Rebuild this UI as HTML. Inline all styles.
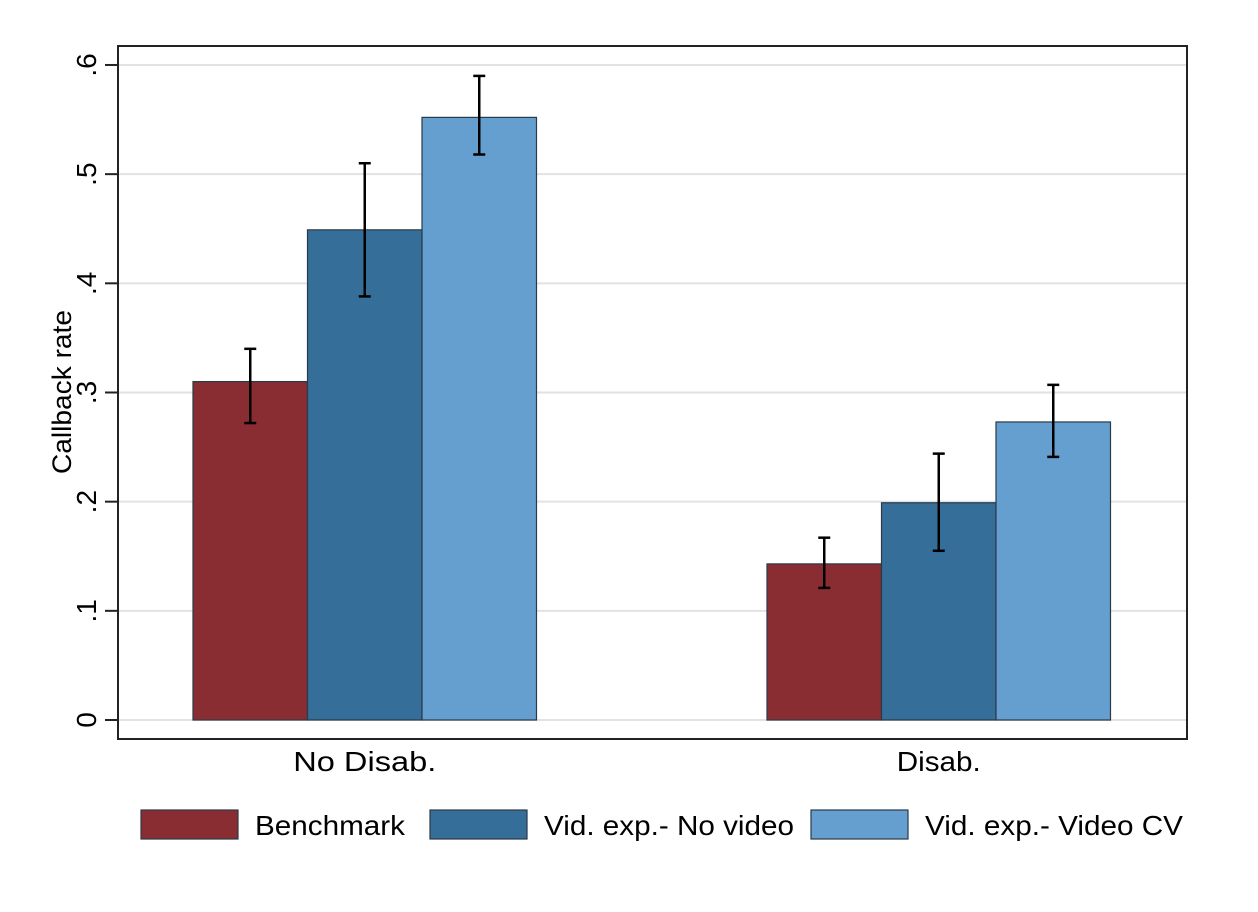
<!DOCTYPE html>
<html><head><meta charset="utf-8"><style>
body{margin:0;background:#fff;}
svg{display:block;font-family:"Liberation Sans",sans-serif;}
</style></head><body>
<svg id="chart" width="1258" height="912" viewBox="0 0 1258 912">
<rect x="0" y="0" width="1258" height="912" fill="#fff"/>
<g id="grid"></g>
<g id="bars"></g>
<g id="errs"></g>
<rect x="118" y="46" width="1069" height="693" fill="none" stroke="#222" stroke-width="2"/>
<g id="yaxis"></g>
<g id="xaxis"></g>
<text x="0" y="0" transform="translate(71,392) rotate(-90)" text-anchor="middle" font-size="27" textLength="164" lengthAdjust="spacingAndGlyphs" fill="#000">Callback rate</text>
<g id="legend"></g>
</svg>
<script>
const categories = ["No Disab.", "Disab."];
const seriesNames = ["Benchmark", "Vid. exp.- No video", "Vid. exp.- Video CV"];
const benchmark = [0.310, 0.143];
const noVideo = [0.449, 0.199];
const videoCV = [0.552, 0.273];
const benchmarkLo = [0.272, 0.121];
const benchmarkHi = [0.340, 0.167];
const noVideoLo = [0.388, 0.155];
const noVideoHi = [0.510, 0.244];
const videoCVLo = [0.518, 0.241];
const videoCVHi = [0.590, 0.307];
const yTicks = [0, 0.1, 0.2, 0.3, 0.4, 0.5, 0.6];
const yTickLabels = ["0", ".1", ".2", ".3", ".4", ".5", ".6"];

const NS = "http://www.w3.org/2000/svg";
const colors = ["#892d33", "#356e99", "#649fcf"];
const y = v => 720 - v * 1091.7;
const groupStart = [193, 767];
const barW = 114.5;
const x = (g, s) => groupStart[g] + s * barW;
function mk(tag, attrs, parent) {
  const e = document.createElementNS(NS, tag);
  for (const k in attrs) e.setAttribute(k, attrs[k]);
  parent.appendChild(e);
  return e;
}
const grid = document.getElementById('grid');
const yaxis = document.getElementById('yaxis');
yTicks.forEach((t, i) => {
  const gl = mk('line', {x1: 119, x2: 1186, y1: y(t), y2: y(t), stroke: '#e2e2e2', 'stroke-width': 2}, grid);
  
  
  const tk = mk('line', {x1: 105, x2: 118, y1: y(t), y2: y(t), stroke: '#222', 'stroke-width': 2}, yaxis);
  
  
  const lb = mk('text', {transform: `translate(96,${y(t)}) rotate(-90)`, 'text-anchor': 'middle', 'font-size': 28, fill: '#000'}, yaxis);
  lb.textContent = yTickLabels[i];
  
  
});
const series = [benchmark, noVideo, videoCV];
const los = [benchmarkLo, noVideoLo, videoCVLo];
const his = [benchmarkHi, noVideoHi, videoCVHi];
const bars = document.getElementById('bars');
const errs = document.getElementById('errs');
const catLen = [143, 84];
categories.forEach((c, g) => {
  series.forEach((sv, s) => {
    const bx = x(g, s);
    const r = mk('rect', {x: bx, y: y(sv[g]), width: barW, height: y(0) - y(sv[g]), fill: colors[s], stroke: '#2a3a48', 'stroke-width': 1.2}, bars);
    
    
    const cx = bx + barW / 2;
    const eg = mk('g', {stroke: '#000', 'stroke-width': 2.5}, errs);
    
    
    mk('line', {x1: cx, x2: cx, y1: y(his[s][g]), y2: y(los[s][g])}, eg);
    mk('line', {x1: cx - 6, x2: cx + 6, y1: y(his[s][g]), y2: y(his[s][g])}, eg);
    mk('line', {x1: cx - 6, x2: cx + 6, y1: y(los[s][g]), y2: y(los[s][g])}, eg);
  });
  const t = mk('text', {x: x(g, 1.5), y: 771, 'text-anchor': 'middle', 'font-size': 28, textLength: catLen[g], lengthAdjust: 'spacingAndGlyphs', fill: '#000'}, document.getElementById('xaxis'));
  t.textContent = c;
  
  
});
const legend = document.getElementById('legend');
const legX = [141, 430, 811];
const legLen = [150, 250, 258];
seriesNames.forEach((n, i) => {
  const r = mk('rect', {x: legX[i], y: 810, width: 97, height: 29, fill: colors[i], stroke: '#2a3a48', 'stroke-width': 1.2}, legend);
  
  
  const t = mk('text', {x: legX[i] + 114, y: 835, 'font-size': 28, textLength: legLen[i], lengthAdjust: 'spacingAndGlyphs', fill: '#000'}, legend);
  t.textContent = n;
  
  
});
</script>
</body></html>
